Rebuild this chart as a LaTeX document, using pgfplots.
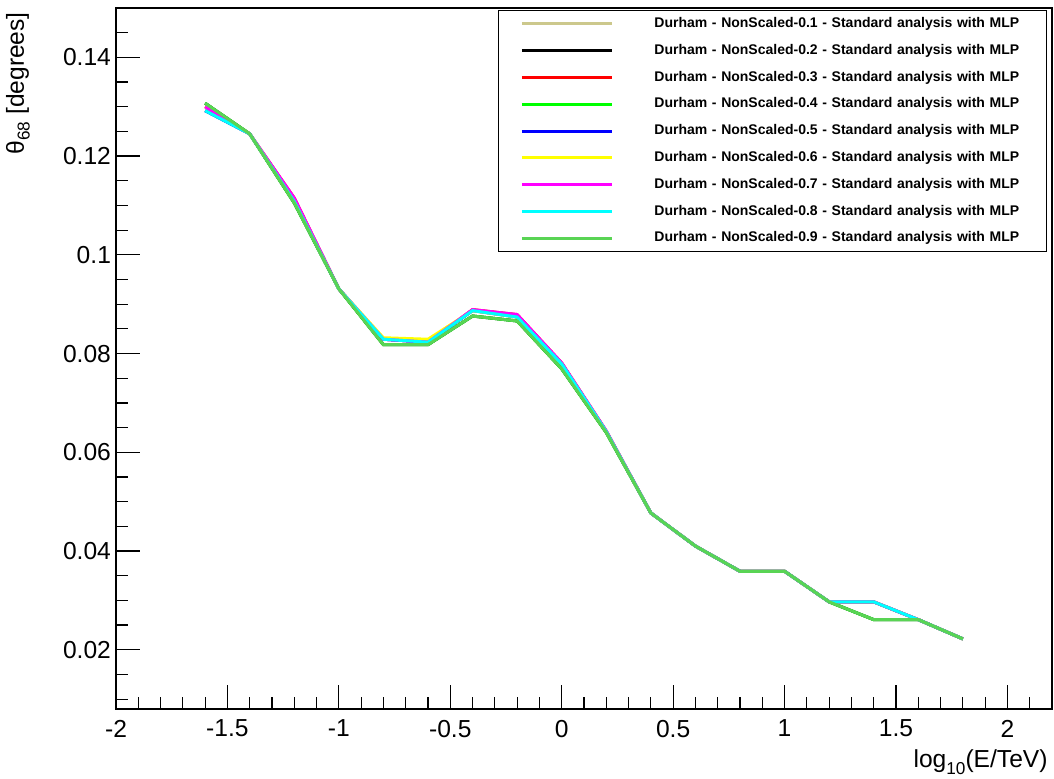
\documentclass[border=0pt]{standalone}
\usepackage{pgfplots}
\usepackage{pgfplotstable}
\usepackage{fontspec}
\setmainfont{Liberation Sans}
\pgfplotsset{compat=1.18}
\definecolor{c1}{RGB}{204,200,140}
\definecolor{c2}{RGB}{0,0,0}
\definecolor{c3}{RGB}{255,0,0}
\definecolor{c4}{RGB}{0,255,0}
\definecolor{c5}{RGB}{0,0,255}
\definecolor{c6}{RGB}{255,255,0}
\definecolor{c7}{RGB}{255,0,255}
\definecolor{c8}{RGB}{0,255,255}
\definecolor{c9}{RGB}{89,212,84}
\pgfplotstableread{
x    G      C      Y      M
-1.6 0.1307 0.1292 0.1300 0.1300
-1.4 0.1245 0.1245 0.1245 0.1245
-1.2 0.1105 0.1108 0.1108 0.1115
-1.0 0.0931 0.0931 0.0931 0.0931
-0.8 0.0818 0.0829 0.0832 0.0829
-0.6 0.0818 0.0823 0.0829 0.0823
-0.4 0.0876 0.0887 0.0887 0.0889
-0.2 0.0866 0.0874 0.0874 0.0879
0.0  0.0769 0.0779 0.0779 0.0781
0.2  0.0640 0.0642 0.0642 0.0643
0.4  0.0477 0.0477 0.0477 0.0477
0.6  0.0410 0.0410 0.0410 0.0410
0.8  0.0359 0.0359 0.0359 0.0359
1.0  0.0359 0.0359 0.0359 0.0359
1.2  0.0297 0.0297 0.0297 0.0297
1.4  0.0261 0.0297 0.0297 0.0297
1.6  0.0261 0.0261 0.0261 0.0261
1.8  0.0222 0.0222 0.0222 0.0222
}\data
\begin{document}
\begin{tikzpicture}
\path[use as bounding box] (-58pt,-35pt) rectangle (469pt,354.5pt);
\begin{axis}[
  at={(0,0)}, anchor=south west,
  scale only axis, width=468pt, height=350.5pt,
  xmin=-2, xmax=2.2, ymin=0.008, ymax=0.150,
  axis line style={line width=0.75pt},
  tick pos=left, tick align=inside,
  major tick length=12pt, minor tick length=6pt,
  every tick/.style={black, line width=0.6pt},
  xtick={-2,-1.5,-1,-0.5,0,0.5,1,1.5,2},
  xticklabels={-2,-1.5,-1,-0.5,0,0.5,1,1.5,2},
  minor xtick={-1.9,-1.8,-1.7,-1.6,-1.4,-1.3,-1.2,-1.1,-0.9,-0.8,-0.7,-0.6,-0.4,-0.3,-0.2,-0.1,0.1,0.2,0.3,0.4,0.6,0.7,0.8,0.9,1.1,1.2,1.3,1.4,1.6,1.7,1.8,1.9,2.1},
  ytick={0.02,0.04,0.06,0.08,0.1,0.12,0.14},
  yticklabels={0.02,0.04,0.06,0.08,0.1,0.12,0.14},
  minor ytick={0.01,0.015,0.025,0.03,0.035,0.045,0.05,0.055,0.065,0.07,0.075,0.085,0.09,0.095,0.105,0.11,0.115,0.125,0.13,0.135,0.145},
  scaled ticks=false,
  ticklabel style={font=\fontsize{12.3}{14}\selectfont},
  xticklabel style={yshift=-2pt},
  yticklabel style={xshift=1pt},
  ylabel={θ\raisebox{-0.45ex}{\fontsize{8.6}{9}\selectfont 68} [degrees]},
  ylabel style={at={(axis description cs:-0.1047,1.004)}, anchor=east, font=\fontsize{12.3}{14}\selectfont},
  xlabel={log\raisebox{-0.5ex}{\fontsize{8.6}{9}\selectfont 10}(E/TeV)},
  xlabel style={at={(axis description cs:0.9957,-0.0756)}, anchor=east, inner sep=0pt, font=\fontsize{12.3}{14}\selectfont},
  legend cell align=left,
  legend image code/.code={\draw[#1, line width=1.5pt] (0pt,0pt) -- (45pt,0pt);},
  legend style={at={(axis description cs:0.99466,0.99715)}, anchor=north east,
    draw=black, line width=0.6pt, fill=white,
    font=\fontsize{7}{8}\selectfont\bfseries,
    inner xsep=11pt, inner ysep=3.3pt, row sep=6.7pt,
    nodes={inner sep=0pt, text height=5.2pt, text depth=1.5pt},
    /tikz/every odd column/.append style={column sep=20.5pt},
    /tikz/every even column/.append style={text width=185pt}},
  every axis plot/.append style={line width=1.5pt, line join=miter},
]
\addplot[c1] table[x=x,y=C] {\data};
\addlegendentry{Durham - NonScaled-0.1 - Standard analysis with MLP}
\addplot[c2] table[x=x,y=G] {\data};
\addlegendentry{Durham - NonScaled-0.2 - Standard analysis with MLP}
\addplot[c3] table[x=x,y=M] {\data};
\addlegendentry{Durham - NonScaled-0.3 - Standard analysis with MLP}
\addplot[c4] table[x=x,y=G] {\data};
\addlegendentry{Durham - NonScaled-0.4 - Standard analysis with MLP}
\addplot[c5] table[x=x,y=C] {\data};
\addlegendentry{Durham - NonScaled-0.5 - Standard analysis with MLP}
\addplot[c6] table[x=x,y=Y] {\data};
\addlegendentry{Durham - NonScaled-0.6 - Standard analysis with MLP}
\addplot[c7] table[x=x,y=M] {\data};
\addlegendentry{Durham - NonScaled-0.7 - Standard analysis with MLP}
\addplot[c8] table[x=x,y=C] {\data};
\addlegendentry{Durham - NonScaled-0.8 - Standard analysis with MLP}
\addplot[c9] table[x=x,y=G] {\data};
\addlegendentry{Durham - NonScaled-0.9 - Standard analysis with MLP}
\end{axis}
\end{tikzpicture}
\end{document}
